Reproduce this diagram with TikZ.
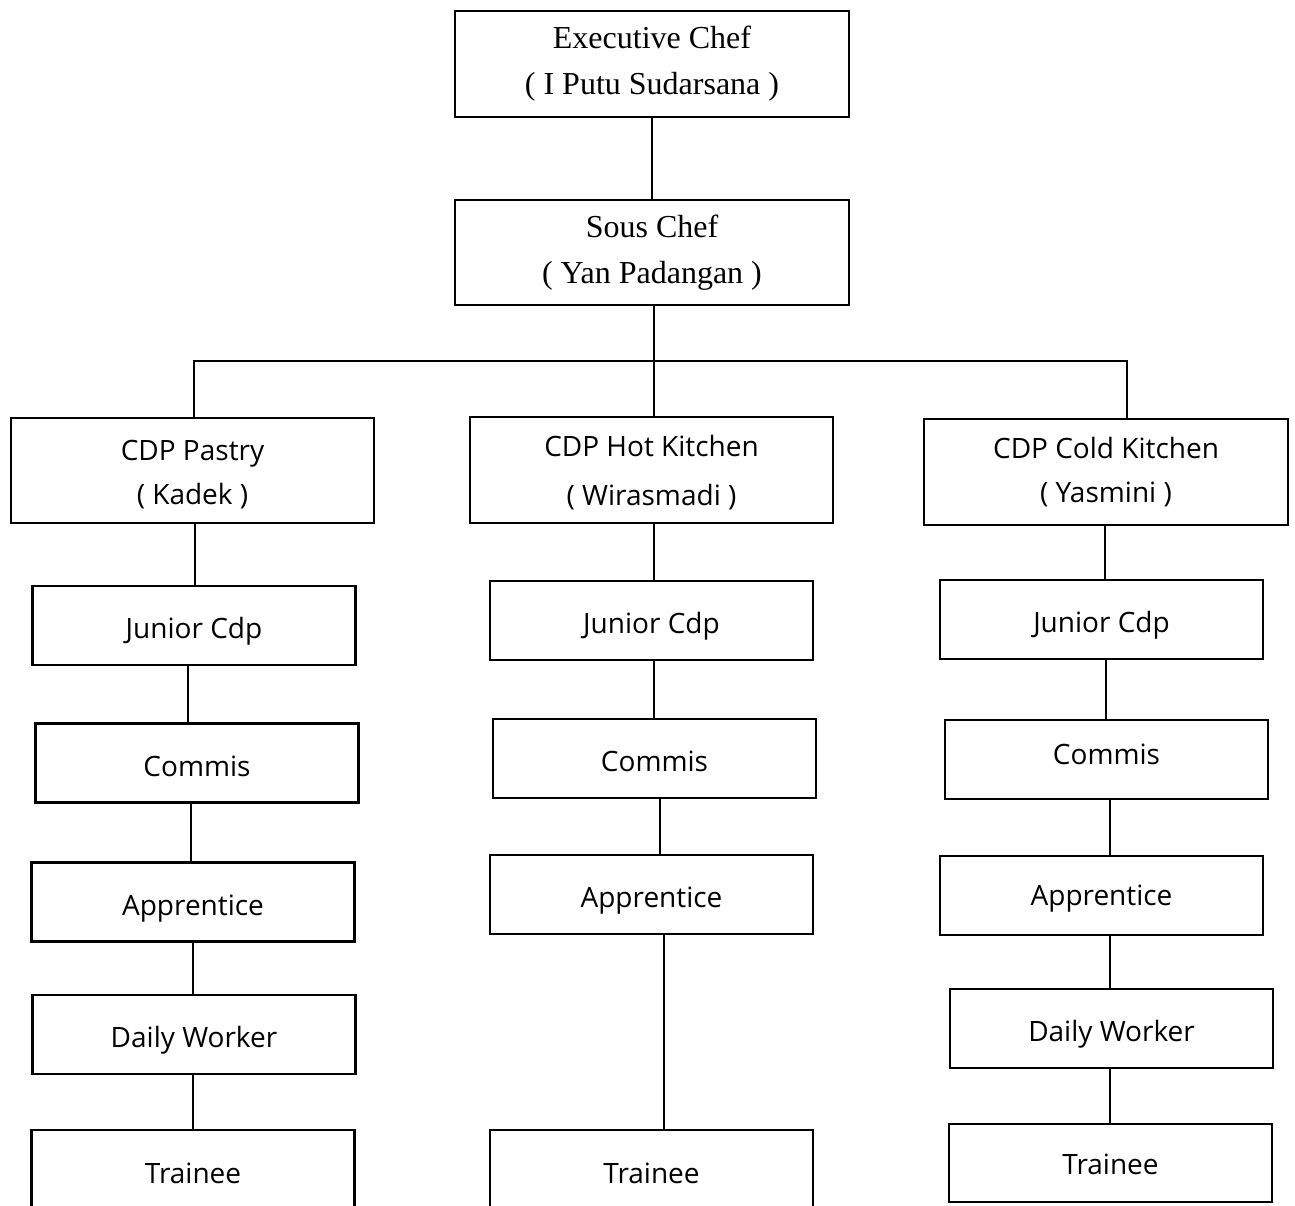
\documentclass[tikz,border=0pt]{standalone}
\usepackage{fontspec}
\setmainfont{Liberation Serif}
\newfontfamily\osans{Open Sans}
\begin{document}
\begin{tikzpicture}[x=1pt,y=1pt,
  box/.style={draw=black,line width=2.4pt,fill=white,inner sep=0pt,align=center},
  topbox/.style={box,minimum width=394,minimum height=106,font=\fontsize{32}{46}\selectfont},
  cdpbox/.style={box,minimum width=363,minimum height=106,font=\osans\fontsize{28}{44}\selectfont},
  rolebox/.style={box,minimum width=323,minimum height=79,text height=28pt,text depth=2pt,font=\osans\fontsize{28}{34}\selectfont},
  link/.style={draw=black,line width=1.5pt}]
\useasboundingbox (0,0) rectangle (1295,-1205);
\clip (0,0) rectangle (1295,-1205);
\fill[white] (0,0) rectangle (1295,-1205);

\node[topbox] (exec) at (652,-64) {Executive Chef\\( I Putu Sudarsana )};
\node[topbox,minimum height=105] (sous) at (652,-252.5) {Sous Chef\\( Yan Padangan )};

\node[cdpbox,minimum height=105,text height=73pt] (pastry) at (192.5,-470.5) {CDP Pastry\\( Kadek )};
\node[cdpbox,text height=75pt,font=\osans\fontsize{28}{49}\selectfont] (hot) at (651.5,-470) {CDP Hot Kitchen\\( Wirasmadi )};
\node[cdpbox,minimum width=364] (cold) at (1106,-472) {CDP Cold Kitchen\\( Yasmini )};

% Pastry column
\node[rolebox] (pj) at (194,-625.5) {Junior Cdp};
\node[rolebox] (pc) at (197,-763) {Commis};
\node[rolebox] (pa) at (193,-902) {Apprentice};
\node[rolebox] (pd) at (194,-1034.5) {Daily Worker};
\node[rolebox,minimum height=80] (pt) at (193,-1170) {Trainee};

% Hot column
\node[rolebox] (hj) at (651.5,-620.5) {Junior Cdp};
\node[rolebox] (hc) at (654.5,-758.5) {Commis};
\node[rolebox] (ha) at (651.5,-894.5) {Apprentice};
\node[rolebox,minimum height=80] (ht) at (651.5,-1170) {Trainee};

% Cold column
\node[rolebox] (cj) at (1101.5,-619.5) {Junior Cdp};
\node[rolebox,text height=12pt] (cc) at (1106.5,-759.5) {Commis};
\node[rolebox,text height=22pt] (ca) at (1101.5,-895.5) {Apprentice};
\node[rolebox] (cd) at (1111.5,-1028.5) {Daily Worker};
\node[rolebox,minimum height=78,text height=24pt] (ct) at (1110.5,-1163) {Trainee};

% connectors
\coordinate (bus) at (654,-361);
\coordinate (busL) at (194,-361);
\coordinate (busR) at (1127,-361);
\draw[link] (exec.south) -- (sous.north);
\draw[link] (sous.south -| bus) -- (bus) -- (hot.north -| bus);
\draw[link] (pastry.north -| busL) -- (busL) -- (busR) -- (cold.north -| busR);

\draw[link] (pastry.south -| 195,0) -- (pj.north -| 195,0);
\draw[link] (pj.south -| 188,0) -- (pc.north -| 188,0);
\draw[link] (pc.south -| 191,0) -- (pa.north -| 191,0);
\draw[link] (pa.south -| 193,0) -- (pd.north -| 193,0);
\draw[link] (pd.south -| 193,0) -- (pt.north -| 193,0);

\draw[link] (hot.south -| 654,0) -- (hj.north -| 654,0);
\draw[link] (hj.south -| 654,0) -- (hc.north -| 654,0);
\draw[link] (hc.south -| 660,0) -- (ha.north -| 660,0);
\draw[link] (ha.south -| 664,0) -- (ht.north -| 664,0);

\draw[link] (cold.south -| 1105,0) -- (cj.north -| 1105,0);
\draw[link] (cj.south -| 1106,0) -- (cc.north -| 1106,0);
\draw[link] (cc.south -| 1110,0) -- (ca.north -| 1110,0);
\draw[link] (ca.south -| 1110,0) -- (cd.north -| 1110,0);
\draw[link] (cd.south -| 1110,0) -- (ct.north -| 1110,0);
\end{tikzpicture}
\end{document}
